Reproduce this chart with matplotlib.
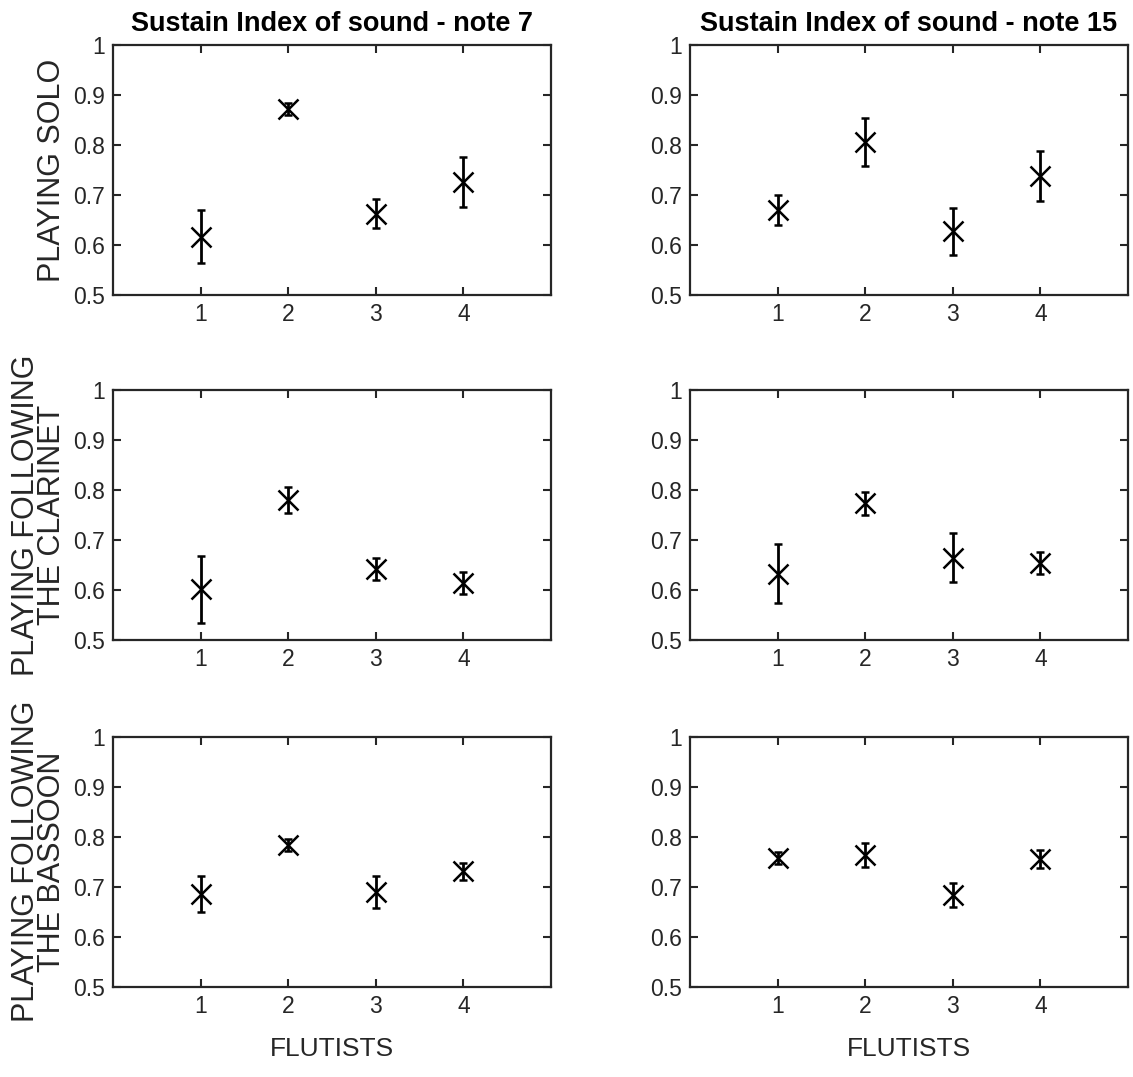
#!/usr/bin/env python3

# Sustain index of sound per flutist, notes 7 and 15, for the three
# playing conditions (solo / following clarinet / following bassoon).

import matplotlib
matplotlib.use("Agg")
from matplotlib import pyplot as plt

plt.rcParams["font.family"] = ["Liberation Sans", "DejaVu Sans"]

flutists = [1, 2, 3, 4]
notes = ["note 7", "note 15"]
conditions = ["PLAYING SOLO", "PLAYING FOLLOWING\nTHE CLARINET", "PLAYING FOLLOWING\nTHE BASSOON"]

# mean sustain index and error per flutist
solo_n7 = [0.617, 0.872, 0.663, 0.727]
solo_n7_err = [0.053, 0.012, 0.029, 0.050]
solo_n15 = [0.670, 0.806, 0.628, 0.738]
solo_n15_err = [0.029, 0.047, 0.047, 0.050]

clarinet_n7 = [0.602, 0.780, 0.643, 0.614]
clarinet_n7_err = [0.067, 0.025, 0.022, 0.022]
clarinet_n15 = [0.633, 0.773, 0.665, 0.655]
clarinet_n15_err = [0.059, 0.022, 0.049, 0.022]

bassoon_n7 = [0.686, 0.783, 0.690, 0.731]
bassoon_n7_err = [0.036, 0.012, 0.032, 0.017]
bassoon_n15 = [0.758, 0.763, 0.683, 0.755]
bassoon_n15_err = [0.012, 0.024, 0.024, 0.018]

yticks = [0.5, 0.6, 0.7, 0.8, 0.9, 1.0]
yticklabels = ["0.5", "0.6", "0.7", "0.8", "0.9", "1"]

data = [
    [(solo_n7, solo_n7_err), (solo_n15, solo_n15_err)],
    [(clarinet_n7, clarinet_n7_err), (clarinet_n15, clarinet_n15_err)],
    [(bassoon_n7, bassoon_n7_err), (bassoon_n15, bassoon_n15_err)],
]

W, H = 1133, 1077
fig = plt.figure(figsize=(W / 100, H / 100), dpi=100)

col_left = [113, 690]
row_top = [45, 390, 736.5]
ax_w, ax_h = 438, 250
axcol = "#262626"

for r in range(3):
    for c in range(2):
        ax = fig.add_axes([col_left[c] / W, 1 - (row_top[r] + ax_h) / H, ax_w / W, ax_h / H])
        mean, err = data[r][c]
        ax.errorbar(flutists, mean, yerr=err, fmt="x", color="k",
                    markersize=14, markeredgewidth=1.8, elinewidth=2,
                    capsize=3, capthick=2)
        ax.set_xlim(0, 5)
        ax.set_ylim(0.5, 1)
        ax.set_xticks(flutists)
        ax.set_yticks(yticks)
        ax.set_yticklabels(yticklabels)
        ax.tick_params(direction="in", length=6, width=1.5, top=True, right=True,
                       labelsize=16.5, colors=axcol, labelcolor=axcol, pad=6)
        for s in ax.spines.values():
            s.set_linewidth(1.6)
            s.set_color(axcol)
        if r == 0:
            ax.set_title("Sustain Index of sound - " + notes[c], fontsize=19.5,
                         fontweight="bold", pad=10)
        if c == 0:
            ax.set_ylabel(conditions[r], fontsize=22, color=axcol, labelpad=4,
                          linespacing=0.85)
        if r == 2:
            ax.set_xlabel("FLUTISTS", fontsize=19, color=axcol)
            ax.xaxis.set_label_coords(0.5, -0.2)

plt.savefig("out.png")
plt.close()
print("Saved out.png")
